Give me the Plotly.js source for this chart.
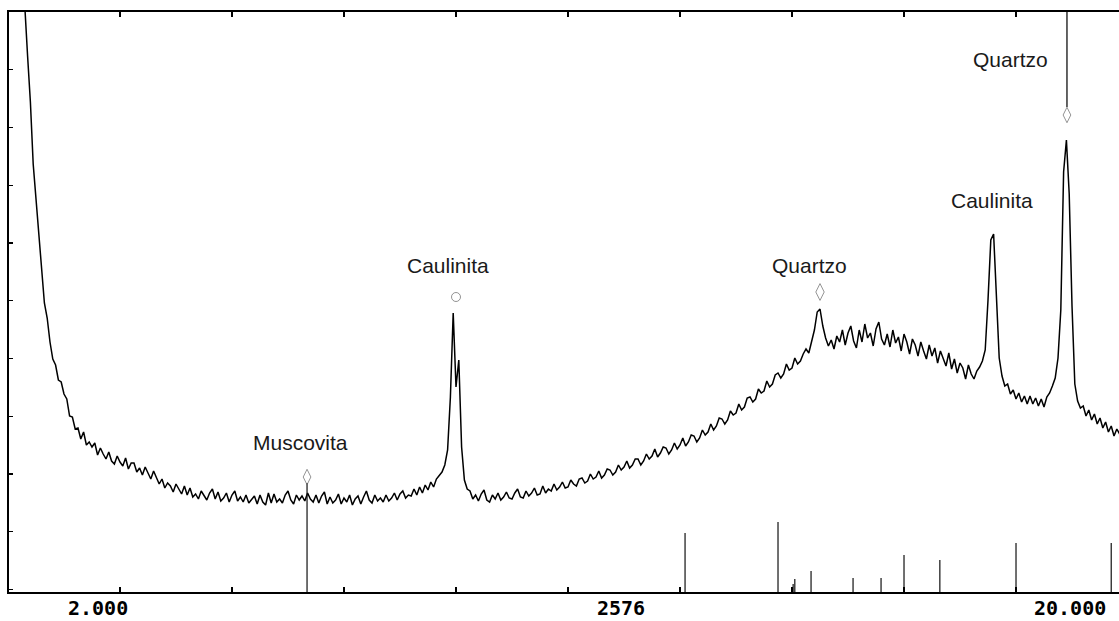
<!DOCTYPE html>
<html>
<head>
<meta charset="utf-8">
<script src="https://cdn.plot.ly/plotly-3.0.1.min.js"></script>
<style>
  html, body { margin: 0; padding: 0; background: #fff; overflow: hidden; }
  #chart { width: 1119px; height: 621px; }
</style>
</head>
<body>
<div id="chart"></div>
<script>
// ---- Scan parameters (2θ, degrees) ----
const SCAN_START = 0.25;
const SCAN_STEP = 0.05;

// ---- Diffractogram intensity (arbitrary units) ----
const intensity = [
  660, 586, 536, 490, 428, 394, 352, 320, 289, 274,
  250, 233, 227, 212, 210, 198, 193, 176, 175, 163,
  164, 153, 160, 147, 150, 145, 149, 137, 144, 138,
  133, 140, 131, 128, 136, 130, 126, 134, 123, 129,
  129, 120, 124, 117, 125, 119, 113, 121, 115, 108,
  113, 104, 109, 106, 100, 108, 103, 98, 106, 97,
  104, 95, 98, 93, 101, 96, 92, 99, 103, 93,
  100, 91, 94, 99, 90, 97, 101, 91, 95, 90,
  97, 89, 92, 96, 88, 97, 90, 87, 99, 89,
  98, 90, 93, 89, 97, 101, 92, 88, 97, 92,
  96, 91, 99, 93, 90, 97, 89, 96, 100, 88,
  95, 89, 92, 98, 88, 94, 90, 97, 87, 93,
  96, 88, 95, 101, 92, 89, 97, 91, 94, 90,
  97, 91, 94, 99, 92, 98, 101, 94, 97, 96,
  103, 97, 105, 99, 107, 102, 110, 105, 113, 116,
  120, 127, 142, 195, 279, 205, 232, 145, 112, 103,
  101, 93, 97, 91, 98, 102, 92, 90, 97, 93,
  99, 92, 95, 100, 94, 93, 99, 103, 95, 94,
  101, 96, 99, 104, 97, 98, 106, 99, 103, 101,
  108, 102, 105, 110, 104, 105, 112, 108, 106, 113,
  114, 109, 111, 118, 113, 115, 121, 114, 117, 123,
  122, 117, 120, 127, 122, 125, 131, 124, 127, 133,
  133, 127, 131, 138, 133, 136, 143, 135, 139, 145,
  144, 138, 142, 149, 143, 147, 154, 146, 150, 157,
  156, 150, 154, 162, 157, 160, 168, 162, 166, 174,
  173, 168, 172, 181, 177, 179, 188, 182, 185, 194,
  195, 190, 193, 203, 199, 201, 211, 205, 208, 217,
  219, 214, 218, 228, 222, 224, 234, 228, 231, 238,
  243, 239, 250, 262, 280, 283, 266, 254, 246, 252,
  243, 256, 250, 262, 247, 259, 266, 251, 244, 262,
  250, 268, 254, 259, 246, 263, 270, 253, 247, 258,
  245, 262, 249, 255, 241, 258, 250, 238, 253, 247,
  236, 250, 241, 233, 247, 236, 244, 229, 241, 233,
  226, 239, 223, 233, 219, 229, 224, 213, 227, 218,
  213, 221, 225, 231, 242, 292, 352, 358, 290, 234,
  216, 206, 208, 198, 202, 193, 199, 190, 196, 188,
  196, 188, 194, 186, 193, 185, 195, 199, 206, 214,
  234, 282, 420, 452, 398, 286, 208, 191, 184, 186,
  176, 182, 172, 178, 168, 174, 164, 170, 160, 166,
  156, 163, 158, 161, 155, 160, 157, 162, 154, 159
];

// ---- Reference pattern sticks (2θ position, relative height) ----
const stickPos    = [5.34, 12.09, 13.75, 14.02, 14.05, 14.34, 15.09, 15.59, 16.00, 16.64, 18.00, 19.70];
const stickHeight = [109,  59,    70,    8,     13,    21,    14,    14,    37,    32,    49,    49];

// ---- Identified peak markers ----
const markerPos    = [5.34, 8.00, 14.50, 18.91];
const markerHeight = [115,  295,  300,   477];
const markerSymbol = ["diamond-tall-open", "circle-open", "diamond-tall-open", "diamond-tall-open"];

// ---- Phase labels ----
const phaseNames = ["Muscovita", "Caulinita", "Quartzo", "Caulinita", "Quartzo"];

// ---- Bottom axis labels ----
const axisLabels = ["2.000", "2576", "20.000"];

// ===== layout constants =====
const Y_MAX = 580;
const phaseLabelPos = [[5.23, 150], [7.86, 327], [14.32, 327], [17.57, 392], [17.91, 533]];
const axisLabelPos = [1.607, 10.946, 18.964];

const twoTheta = intensity.map((_, i) => +(SCAN_START + i * SCAN_STEP).toFixed(3));

const sx = [], sy = [];
stickPos.forEach((p, i) => { sx.push(p, p, null); sy.push(0, stickHeight[i], null); });

// pointer line from the last Quartzo marker up to the top frame
const qIdx = 3;
const pointerX = [markerPos[qIdx], markerPos[qIdx]];
const pointerY = [markerHeight[qIdx] + 8, Y_MAX];

const traces = [
  { x: twoTheta, y: intensity, type: "scatter", mode: "lines",
    line: { color: "#000", width: 1.5 }, hoverinfo: "x+y" },
  { x: sx, y: sy, type: "scatter", mode: "lines",
    line: { color: "#111", width: 1.2 }, hoverinfo: "skip" },
  { x: pointerX, y: pointerY, type: "scatter", mode: "lines",
    line: { color: "#111", width: 1.3 }, hoverinfo: "skip" },
  { x: markerPos, y: markerHeight, type: "scatter", mode: "markers",
    marker: { symbol: markerSymbol, size: [11, 9, 12, 11], color: "#666", line: { color: "#666", width: 1 } },
    hoverinfo: "skip" }
];

const annotations = [];
phaseNames.forEach((t, i) => {
  annotations.push({ text: t, x: phaseLabelPos[i][0], y: phaseLabelPos[i][1], xref: "x", yref: "y",
    showarrow: false, xanchor: "center", yanchor: "middle",
    font: { family: "Liberation Sans, Arial, sans-serif", size: 21, color: "#1a1a1a" } });
});
axisLabels.forEach((t, i) => {
  annotations.push({ text: "<b>" + t + "</b>", x: axisLabelPos[i], y: -0.0276, xref: "x", yref: "paper",
    showarrow: false, xanchor: "center", yanchor: "middle", borderpad: 0,
    font: { family: "DejaVu Sans Mono, monospace", size: 20, color: "#000" } });
});

const layout = {
  width: 1119, height: 621,
  margin: { l: 9, r: 0, t: 12, b: 29, pad: 0 },
  paper_bgcolor: "#fff", plot_bgcolor: "#fff",
  showlegend: false,
  xaxis: {
    range: [0.018, 19.839], showgrid: false, zeroline: false,
    showline: true, linecolor: "#000", linewidth: 1.6, mirror: "ticks",
    ticks: "inside", ticklen: 5, tickwidth: 1.4, tickcolor: "#000",
    tickmode: "array", tickvals: [2, 4, 6, 8, 10, 12, 14, 16, 18],
    showticklabels: false
  },
  yaxis: {
    range: [0, Y_MAX], showgrid: false, zeroline: false,
    showline: true, linecolor: "#000", linewidth: 1.6, mirror: false,
    ticks: "inside", ticklen: 4, tickwidth: 1.4, tickcolor: "#000",
    tick0: Y_MAX, dtick: 57.75, showticklabels: false
  },
  annotations: annotations
};

Plotly.newPlot("chart", traces, layout, { displayModeBar: false, staticPlot: true });
</script>
</body>
</html>
